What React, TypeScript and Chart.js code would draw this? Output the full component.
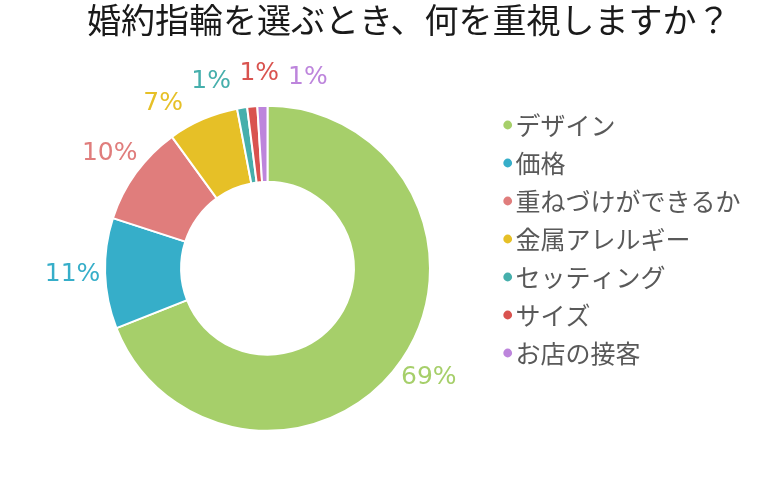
import React, { useEffect, useRef } from 'react';
import { Chart, registerables } from 'chart.js';

Chart.register(...registerables);

const TITLE = '婚約指輪を選ぶとき、何を重視しますか？';
const CATEGORIES = ['デザイン', '価格', '重ねづけができるか', '金属アレルギー', 'セッティング', 'サイズ', 'お店の接客'];
const PERCENTS = [69, 11, 10, 7, 1, 1, 1];
const COLORS = ['#a6cf6a', '#36aec9', '#e07d7c', '#e6c027', '#46afac', '#d9534f', '#bd85dc'];

const LABEL_FONT = '25px "DejaVu Sans"';

function makeDot(color: string): HTMLCanvasElement {
  const c = document.createElement('canvas');
  c.width = 64;
  c.height = 12;
  const g = c.getContext('2d')!;
  g.fillStyle = color;
  g.beginPath();
  g.arc(57.7, 6, 4.4, 0, Math.PI * 2);
  g.fill();
  return c;
}

const percentLabels = {
  id: 'percentLabels',
  afterDatasetsDraw(chart: any) {
    const meta = chart.getDatasetMeta(0);
    const ctx = chart.ctx as CanvasRenderingContext2D;
    const ds = chart.data.datasets[0];
    ctx.save();
    ctx.font = LABEL_FONT;
    const gap = 32.5;
    const items = meta.data.map((arc: any, i: number) => {
      const p = arc.getProps(['x', 'y', 'startAngle', 'endAngle', 'outerRadius'], true);
      const text = `${ds.data[i]}%`;
      return {
        cx: p.x,
        cy: p.y,
        r: p.outerRadius + gap,
        a: (p.startAngle + p.endAngle) / 2,
        w: ctx.measureText(text).width,
        h: 22,
        text,
        color: ds.backgroundColor[i],
      };
    });
    const pos = (it: any) => ({ x: it.cx + Math.cos(it.a) * it.r, y: it.cy + Math.sin(it.a) * it.r });
    for (let iter = 0; iter < 600; iter++) {
      let moved = false;
      for (let k = 0; k < items.length - 1; k++) {
        const A = items[k];
        const B = items[k + 1];
        const pa = pos(A);
        const pb = pos(B);
        if (
          Math.abs(pa.x - pb.x) < (A.w + B.w) / 2 + 8 &&
          Math.abs(pa.y - pb.y) < (A.h + B.h) / 2 + 2
        ) {
          A.a -= 0.004;
          B.a += 0.004;
          moved = true;
        }
      }
      if (!moved) break;
    }
    ctx.textAlign = 'center';
    ctx.textBaseline = 'middle';
    items.forEach((it: any) => {
      const p = pos(it);
      ctx.fillStyle = it.color;
      ctx.fillText(it.text, p.x, p.y);
    });
    ctx.restore();
  },
};

export default function App() {
  const ref = useRef<HTMLCanvasElement | null>(null);

  useEffect(() => {
    document.body.style.margin = '0';
    const dots = COLORS.map(makeDot);
    const chart = new Chart(ref.current!, {
      type: 'doughnut',
      data: {
        labels: CATEGORIES,
        datasets: [
          {
            data: PERCENTS,
            backgroundColor: COLORS,
            borderColor: '#ffffff',
            borderWidth: 2,
          },
        ],
      },
      options: {
        responsive: false,
        animation: false,
        cutout: '53.2%',
        radius: 162.5,
        layout: { padding: { left: 87, right: 17.5, top: 0, bottom: 42.9 } },
        plugins: {
          title: {
            display: true,
            text: TITLE,
            align: 'start',
            color: '#1a1a1a',
            font: { family: '"Noto Sans CJK JP"', size: 34, weight: 'normal' },
            padding: { top: 0, bottom: 58.7 },
          },
          legend: {
            position: 'right',
            align: 'start',
            fullSize: false,
            labels: {
              usePointStyle: true,
              pointStyleWidth: 42,
              boxHeight: 7,
              padding: 13,
              color: '#595959',
              font: { family: '"Noto Sans CJK JP"', size: 25 },
              generateLabels: () =>
                CATEGORIES.map((t, i) => ({
                  text: t,
                  fillStyle: COLORS[i],
                  strokeStyle: COLORS[i],
                  lineWidth: 0,
                  pointStyle: dots[i],
                  fontColor: '#595959',
                  hidden: false,
                  index: i,
                })),
            },
          },
          tooltip: { enabled: false },
        },
      } as any,
      plugins: [percentLabels],
    });
    return () => chart.destroy();
  }, []);

  return (
    <div style={{ width: 768, height: 480 }}>
      <canvas ref={ref} width={768} height={480} />
    </div>
  );
}
